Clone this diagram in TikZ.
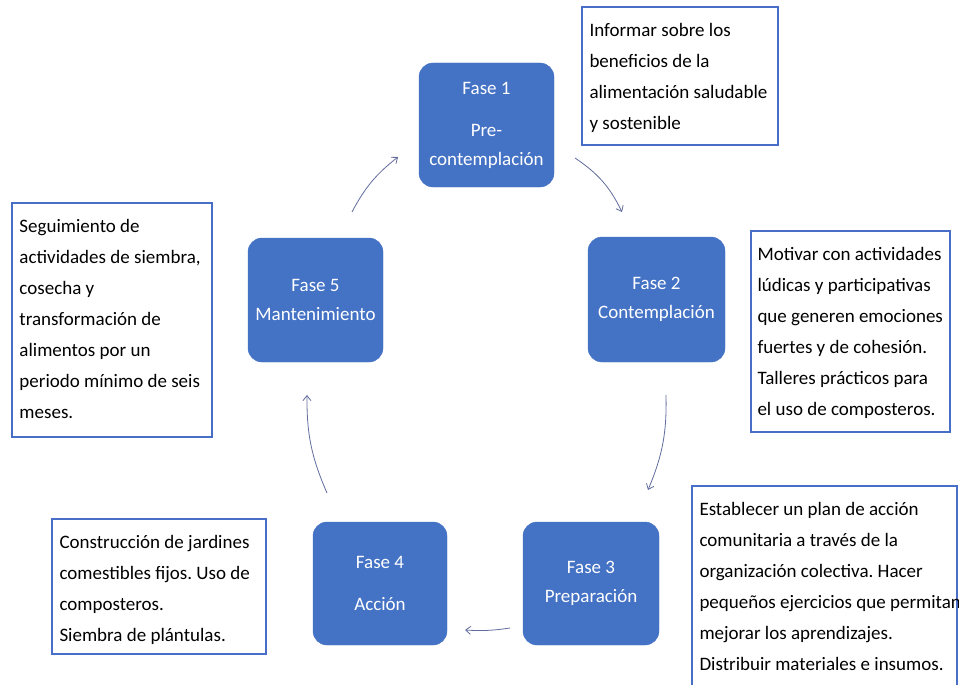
\documentclass[tikz,border=0pt]{standalone}
\usepackage{fontspec}
\setmainfont{Carlito}
\usetikzlibrary{arrows.meta}
\definecolor{phaseblue}{RGB}{68,114,196}
\definecolor{boxblue}{RGB}{72,110,200}
\definecolor{arrowcol}{RGB}{98,108,158}
\frenchspacing
\tikzset{
  phase/.style={draw=phaseblue, fill=phaseblue, rounded corners=14pt, inner sep=0pt,
    text=white, align=center, font=\fontsize{19}{29}\selectfont},
  descbox/.style={draw=boxblue, line width=1.4pt, inner sep=0pt},
  desctext/.style={anchor=north west, inner sep=0pt, align=left, text=black,
    font=\fontsize{19}{31}\selectfont},
  flow/.style={draw=arrowcol, line width=0.8pt, -{Straight Barb[length=5pt,width=8pt]}}
}
\begin{document}
\begin{tikzpicture}[x=1pt,y=-1pt]
\fill[white] (0,0) rectangle (959,685);
\useasboundingbox (0,0) rectangle (959,685);
\clip (0,0) rectangle (959,685);

% phase boxes
\node[phase, minimum width=135pt, minimum height=124pt] (f1) at (486.5,125) {Fase 1\\[13pt]Pre-\\contemplación};
\node[phase, minimum width=137pt, minimum height=125pt] (f2) at (656.5,299.5) {Fase 2\\Contemplación};
\node[phase, minimum width=136pt, minimum height=123pt] (f3) at (591,583.5) {Fase 3\\Preparación};
\node[phase, minimum width=134pt, minimum height=123pt] (f4) at (380,583.5) {Fase 4\\[13pt]Acción};
\node[phase, minimum width=135pt, minimum height=124pt] (f5) at (315.5,300) {Fase 5\\Mantenimiento};

% description boxes
\node[descbox, minimum width=196pt, minimum height=138pt] (d1) at (680,76) {};
\node[descbox, minimum width=199pt, minimum height=201pt] (d2) at (850.5,331.5) {};
\node[descbox, minimum width=265pt, minimum height=214pt] (d3) at (824.5,593) {};
\node[descbox, minimum width=214pt, minimum height=135pt] (d4) at (159,586.5) {};
\node[descbox, minimum width=200pt, minimum height=234pt] (d5) at (112,320) {};

\node[desctext] (t1) at ([shift={(8pt,-13.5pt)}]d1.north west)
  {\rule{0pt}{16pt}Informar sobre los\\beneficios de la\\alimentación saludable\\y sostenible};
\node[desctext] (t2) at ([shift={(7pt,-13.5pt)}]d2.north west)
  {\rule{0pt}{16pt}Motivar con actividades\\lúdicas y participativas\\que generen emociones\\fuertes y de cohesión.\\Talleres prácticos para\\el uso de composteros.};
\node[desctext] (t3) at ([shift={(8pt,-13.5pt)}]d3.north west)
  {\rule{0pt}{16pt}Establecer un plan de acción\\comunitaria a través de la\\organización colectiva. Hacer\\pequeños ejercicios que permitan\\mejorar los aprendizajes.\\Distribuir materiales e insumos.};
\node[desctext] (t4) at ([shift={(8pt,-13.5pt)}]d4.north west)
  {\rule{0pt}{16pt}Construcción de jardines\\comestibles fijos. Uso de\\composteros.\\Siembra de plántulas.};
\node[desctext] (t5) at ([shift={(8pt,-13.5pt)}]d5.north west)
  {\rule{0pt}{16pt}Seguimiento de\\actividades de siembra,\\cosecha y\\transformación de\\alimentos por un\\periodo mínimo de seis\\meses.};

% arrow end points
\coordinate (a1s) at (575,158); \coordinate (a1e) at (622,212);
\coordinate (a2s) at (666,395); \coordinate (a2e) at (648,490);
\coordinate (a3s) at (510,628); \coordinate (a3e) at (465,630);
\coordinate (a4s) at (327,493); \coordinate (a4e) at (307,395);
\coordinate (a5s) at (352,212); \coordinate (a5e) at (398,157);

\draw[flow] (a1s) to[bend left=15] (a1e);
\draw[flow] (a2s) to[bend left=12] (a2e);
\draw[flow] (a3s) to[bend left=6] (a3e);
\draw[flow] (a4s) to[bend left=12] (a4e);
\draw[flow] (a5s) to[bend left=12] (a5e);
\end{tikzpicture}
\end{document}
